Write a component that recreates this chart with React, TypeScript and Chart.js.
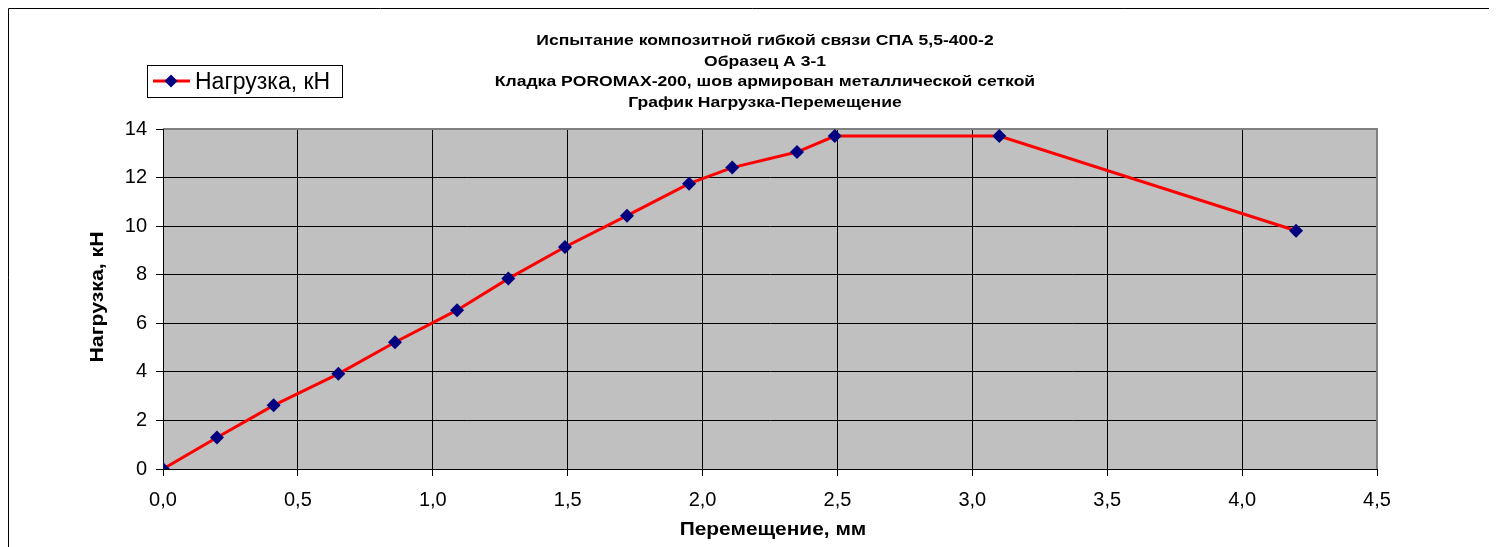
import React, { useEffect, useRef } from "react";
import { Chart, registerables } from "chart.js";

Chart.register(...registerables);

const displacement = [0, 0.2, 0.41, 0.65, 0.86, 1.09, 1.28, 1.49, 1.72, 1.95, 2.11, 2.35, 2.49, 3.1, 4.2];
const load = [0, 1.3, 2.62, 3.92, 5.22, 6.54, 7.84, 9.14, 10.43, 11.75, 12.41, 13.05, 13.71, 13.71, 9.81];
const seriesName = "Нагрузка, кН";
const titleLines = [
  "Испытание композитной гибкой связи СПА 5,5-400-2",
  "Образец А 3-1",
  "Кладка POROMAX-200, шов армирован металлической сеткой",
  "График Нагрузка-Перемещение",
];
const xTitle = "Перемещение, мм";
const yTitle = "Нагрузка, кН";

const FONT = "'Liberation Sans', Arial, sans-serif";

function stretchText(ctx: CanvasRenderingContext2D, text: string, x: number, y: number, sx: number) {
  ctx.save();
  ctx.translate(x, y);
  ctx.scale(sx, 1);
  ctx.fillText(text, 0, 0);
  ctx.restore();
}

const decorPlugin = {
  id: "decor",
  beforeDraw(chart: any) {
    const { ctx, chartArea: a } = chart;
    ctx.save();
    ctx.fillStyle = "#ffffff";
    ctx.fillRect(0, 0, chart.width, chart.height);
    ctx.fillStyle = "#c0c0c0";
    ctx.fillRect(a.left, a.top, a.right - a.left, a.bottom - a.top);
    ctx.strokeStyle = "#000";
    ctx.lineWidth = 1;
    ctx.beginPath();
    ctx.moveTo(0.5, chart.height);
    ctx.lineTo(0.5, 0.5);
    ctx.lineTo(chart.width, 0.5);
    ctx.stroke();
    ctx.restore();
  },
  beforeDatasetsDraw(chart: any) {
    const { ctx, chartArea: a } = chart;
    ctx.save();
    ctx.strokeStyle = "#808080";
    ctx.lineWidth = 2;
    ctx.beginPath();
    ctx.moveTo(a.left, a.top);
    ctx.lineTo(a.right, a.top);
    ctx.lineTo(a.right, a.bottom);
    ctx.stroke();
    ctx.strokeStyle = "#000";
    ctx.lineWidth = 1;
    ctx.beginPath();
    ctx.moveTo(a.left + 0.5, a.top);
    ctx.lineTo(a.left + 0.5, a.bottom + 0.5);
    ctx.lineTo(a.right, a.bottom + 0.5);
    ctx.stroke();
    ctx.restore();
  },
  afterDraw(chart: any) {
    const { ctx } = chart;
    ctx.save();
    ctx.fillStyle = "#000";
    // title
    ctx.font = `bold 15px ${FONT}`;
    ctx.textAlign = "center";
    ctx.textBaseline = "alphabetic";
    titleLines.forEach((t, i) => {
      stretchText(ctx, t, 757, 37 + 20.7 * i, 1.17);
    });
    // x title
    ctx.font = `bold 18px ${FONT}`;
    stretchText(ctx, xTitle, 765, 527, 1.16);
    // y title
    ctx.save();
    ctx.translate(90, 289);
    ctx.rotate(-Math.PI / 2);
    ctx.textBaseline = "middle";
    stretchText(ctx, yTitle, 0, 0, 1.18);
    ctx.restore();
    // legend
    ctx.strokeStyle = "#000";
    ctx.lineWidth = 1;
    ctx.fillStyle = "#fff";
    ctx.fillRect(139.5, 57.5, 195, 32);
    ctx.strokeRect(139.5, 57.5, 195, 32);
    ctx.strokeStyle = "#ff0000";
    ctx.lineWidth = 3;
    ctx.beginPath();
    ctx.moveTo(145, 73);
    ctx.lineTo(182, 73);
    ctx.stroke();
    ctx.fillStyle = "#000080";
    ctx.beginPath();
    ctx.moveTo(163, 66.5);
    ctx.lineTo(169.5, 73);
    ctx.lineTo(163, 79.5);
    ctx.lineTo(156.5, 73);
    ctx.closePath();
    ctx.fill();
    ctx.fillStyle = "#000";
    ctx.font = `23px ${FONT}`;
    ctx.textAlign = "left";
    ctx.textBaseline = "middle";
    ctx.fillText(seriesName, 187, 75);
    ctx.restore();
  },
};

export default function App() {
  const ref = useRef<HTMLCanvasElement>(null);
  useEffect(() => {
    document.body.style.overflow = "hidden";
    document.documentElement.style.overflow = "hidden";
    const chart = new Chart(ref.current!, {
      type: "line",
      data: {
        datasets: [
          {
            label: seriesName,
            data: displacement.map((x, i) => ({ x, y: load[i] })),
            borderColor: "#ff0000",
            borderWidth: 3,
            pointStyle: "rectRot",
            pointRadius: 7,
            pointBackgroundColor: "#000080",
            pointBorderColor: "#000080",
            pointBorderWidth: 0,
            tension: 0,
          },
        ],
      },
      options: {
        responsive: false,
        animation: false,
        layout: { padding: { top: 121, right: 120, left: 0, bottom: 0 } },
        plugins: { legend: { display: false }, title: { display: false }, tooltip: { enabled: false } },
        scales: {
          x: {
            type: "linear",
            min: 0,
            max: 4.5,
            afterFit: (s: any) => { s.height = 78; },
            ticks: {
              stepSize: 0.5,
              color: "#000",
              font: { family: FONT, size: 20 },
              padding: 12,
              maxRotation: 0,
              autoSkip: false,
              callback: (v: any) => Number(v).toFixed(1).replace(".", ","),
            },
            grid: { color: "#000", lineWidth: 1, tickLength: 7, drawTicks: true },
            border: { color: "#000", width: 1 },
          },
          y: {
            min: 0,
            max: 14,
            afterFit: (s: any) => { s.width = 155; },
            ticks: {
              stepSize: 2,
              color: "#000",
              font: { family: FONT, size: 20 },
              padding: 9,
            },
            grid: { color: "#000", lineWidth: 1, tickLength: 7 },
            border: { color: "#000", width: 1 },
          },
        },
      },
      plugins: [decorPlugin],
    });
    return () => chart.destroy();
  }, []);
  return <canvas ref={ref} width={1489} height={539} style={{ display: "block" }} />;
}
